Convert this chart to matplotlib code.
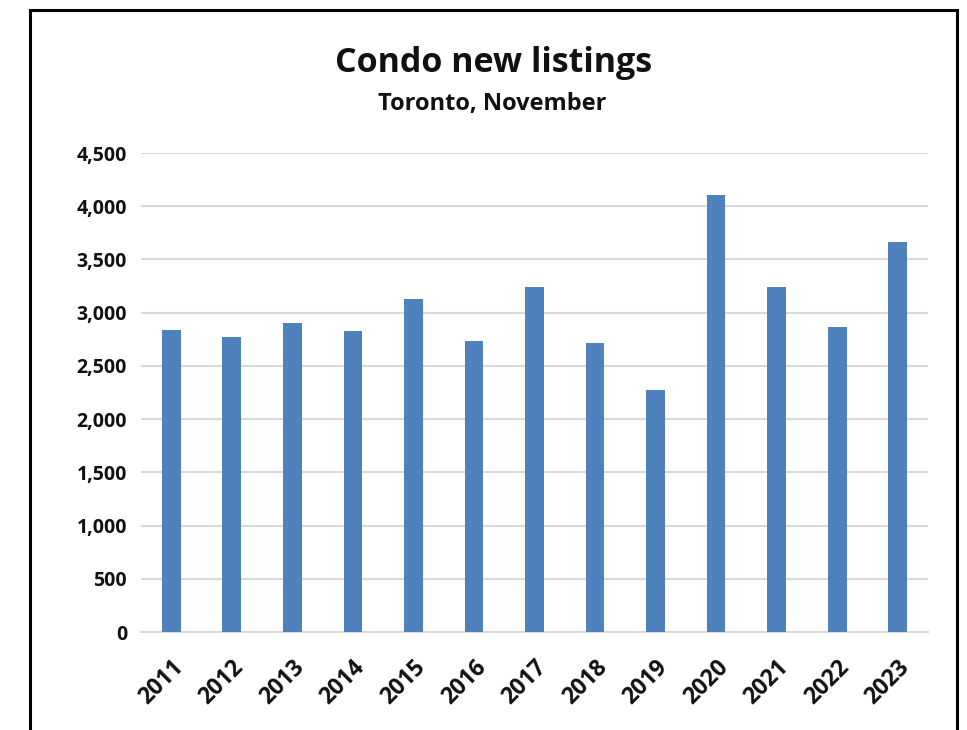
import matplotlib
matplotlib.use("Agg")
import matplotlib.pyplot as plt
from matplotlib.patches import Rectangle
from matplotlib.ticker import FuncFormatter, MultipleLocator

years = ["2011", "2012", "2013", "2014", "2015", "2016", "2017",
         "2018", "2019", "2020", "2021", "2022", "2023"]
listings = [2840, 2775, 2900, 2830, 3125, 2735, 3240,
            2715, 2270, 4105, 3245, 2870, 3665]

title = "Condo new listings"
subtitle = "Toronto, November"

plt.rcParams['font.family'] = ['Open Sans', 'DejaVu Sans']

fig = plt.figure(figsize=(9.67, 7.30), dpi=100)
ax = fig.add_axes([141/967, 1-632/730, (928-141)/967, (632-153)/730])

x = list(range(len(years)))
ax.bar(x, listings, width=0.31, color="#4F81BD", zorder=3)
ax.set_xlim(-0.5, len(years)-0.5)
ax.set_ylim(0, 4500)
ax.yaxis.set_major_locator(MultipleLocator(500))
ax.yaxis.set_major_formatter(FuncFormatter(lambda v, p: f"{int(v):,}"))
ax.grid(axis='y', color="#d9d9d9", linewidth=1.5, zorder=0)
for s in ['top', 'right', 'left']:
    ax.spines[s].set_visible(False)
ax.spines['bottom'].set_color("#d9d9d9")
ax.spines['bottom'].set_linewidth(1.5)
ax.tick_params(axis='both', length=0)
ax.tick_params(axis='y', pad=10)
ax.set_xticks(x)
ax.set_xticklabels(years, rotation=45, ha='right', rotation_mode='anchor')
for lab in ax.get_yticklabels():
    lab.set_fontweight('bold')
    lab.set_fontsize(14)
    lab.set_color('#111111')
for lab in ax.get_xticklabels():
    lab.set_fontweight('bold')
    lab.set_fontsize(16.5)
    lab.set_color('#111111')
ax.tick_params(axis='x', pad=17)

fig.text(494/967, 1-63/730, title, ha='center', va='center',
         fontsize=24.5, fontweight='bold', color='#111111')
fig.text(492/967, 1-104/730, subtitle, ha='center', va='center',
         fontsize=17, fontweight='bold', color='#111111')

# frame (bottom edge falls outside the picture)
fig.patches.append(Rectangle((30/967, -10/730), (957-30)/967, (730-10+10)/730,
                             transform=fig.transFigure, fill=False,
                             edgecolor='black', linewidth=2.2))

fig.savefig("out.png", dpi=100)
